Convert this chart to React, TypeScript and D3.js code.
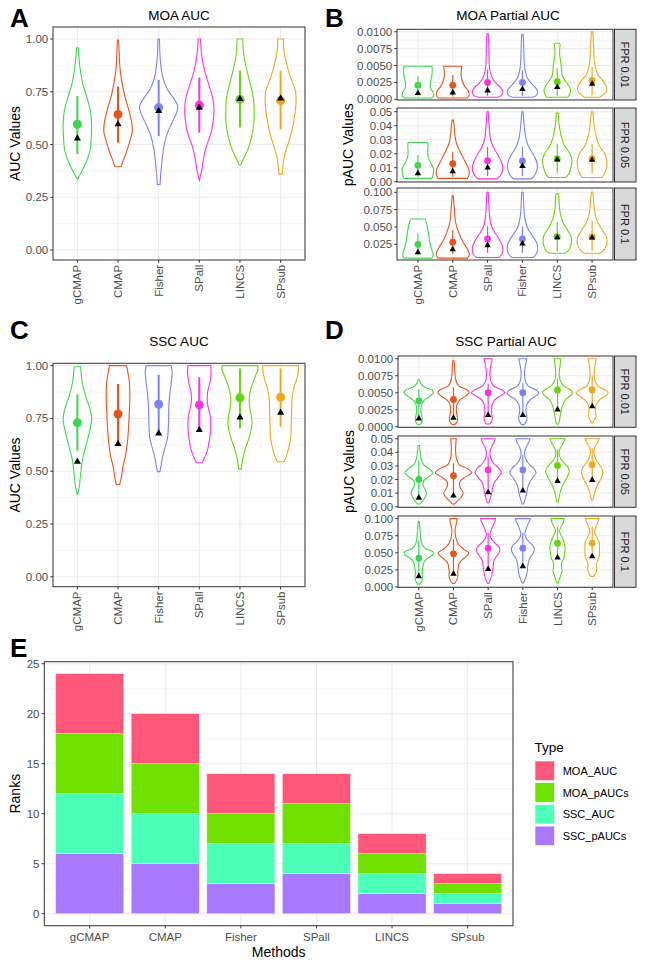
import React from 'react';
import * as d3 from 'd3';

type Prof = [number, number][];

const FONT = "'Liberation Sans', Arial, Helvetica, sans-serif";

const METHODS_AC = ['gCMAP', 'CMAP', 'Fisher', 'SPall', 'LINCS', 'SPsub'];
const METHODS_BD = ['gCMAP', 'CMAP', 'SPall', 'Fisher', 'LINCS', 'SPsub'];
const METHOD_COLORS: Record<string, string> = {
  gCMAP: '#3ED552', CMAP: '#E6531C', Fisher: '#7F80F5', SPall: '#FB33E2', LINCS: '#68D40F', SPsub: '#EFA71E',
};

// ---------- Panel A: MOA AUC (order METHODS_AC) ----------
const A_PROFILES: Prof[] = [
  [[0.335, 0.0], [0.37, 0.10], [0.42, 0.22], [0.47, 0.31], [0.53, 0.34], [0.60, 0.35], [0.66, 0.32], [0.72, 0.24], [0.79, 0.13], [0.87, 0.06], [0.93, 0.03], [0.959, 0.02]],
  [[0.395, 0.08], [0.42, 0.12], [0.46, 0.20], [0.51, 0.28], [0.56, 0.35], [0.60, 0.34], [0.66, 0.27], [0.72, 0.18], [0.79, 0.10], [0.86, 0.05], [0.95, 0.025], [0.995, 0.015]],
  [[0.311, 0.035], [0.36, 0.05], [0.42, 0.08], [0.48, 0.12], [0.54, 0.19], [0.60, 0.32], [0.65, 0.44], [0.68, 0.47], [0.71, 0.40], [0.76, 0.22], [0.82, 0.10], [0.90, 0.04], [1.0, 0.02]],
  [[0.332, 0.0], [0.38, 0.06], [0.43, 0.10], [0.49, 0.17], [0.55, 0.28], [0.61, 0.34], [0.67, 0.36], [0.72, 0.33], [0.78, 0.24], [0.85, 0.13], [0.92, 0.06], [1.0, 0.03]],
  [[0.403, 0.02], [0.43, 0.08], [0.47, 0.18], [0.53, 0.28], [0.60, 0.34], [0.66, 0.35], [0.72, 0.33], [0.79, 0.25], [0.86, 0.16], [0.93, 0.09], [1.0, 0.07]],
  [[0.36, 0.04], [0.40, 0.06], [0.45, 0.10], [0.50, 0.18], [0.56, 0.27], [0.63, 0.34], [0.70, 0.38], [0.75, 0.37], [0.81, 0.26], [0.88, 0.15], [0.95, 0.08], [1.0, 0.07]],
];
const A_MEAN = [0.596, 0.643, 0.675, 0.687, 0.714, 0.708];
const A_MEDIAN = [0.529, 0.596, 0.659, 0.675, 0.716, 0.719];
const A_LO = [0.455, 0.509, 0.54, 0.556, 0.581, 0.572];
const A_HI = [0.73, 0.774, 0.806, 0.818, 0.85, 0.85];

// ---------- Panel C: SSC AUC (order METHODS_AC) ----------
const C_PROFILES: Prof[] = [
  [[0.387, 0], [0.43, 0.05], [0.47, 0.07], [0.52, 0.10], [0.56, 0.13], [0.62, 0.21], [0.68, 0.29], [0.75, 0.35], [0.80, 0.30], [0.85, 0.21], [0.92, 0.12], [0.97, 0.09], [0.995, 0.08]],
  [[0.437, 0.04], [0.47, 0.08], [0.52, 0.12], [0.57, 0.18], [0.62, 0.22], [0.68, 0.25], [0.75, 0.27], [0.84, 0.29], [0.92, 0.28], [0.97, 0.24], [1.0, 0.21]],
  [[0.498, 0.03], [0.53, 0.06], [0.57, 0.10], [0.62, 0.17], [0.66, 0.22], [0.72, 0.24], [0.80, 0.25], [0.86, 0.27], [0.92, 0.31], [0.97, 0.33], [1.0, 0.31]],
  [[0.54, 0.07], [0.56, 0.12], [0.60, 0.20], [0.65, 0.25], [0.70, 0.28], [0.76, 0.27], [0.82, 0.20], [0.87, 0.20], [0.92, 0.26], [0.97, 0.29], [1.0, 0.28]],
  [[0.51, 0.03], [0.55, 0.06], [0.60, 0.12], [0.65, 0.21], [0.70, 0.28], [0.75, 0.29], [0.80, 0.24], [0.85, 0.23], [0.90, 0.28], [0.95, 0.38], [0.98, 0.44], [1.0, 0.44]],
  [[0.545, 0.08], [0.57, 0.14], [0.61, 0.20], [0.66, 0.25], [0.72, 0.26], [0.78, 0.27], [0.84, 0.28], [0.89, 0.32], [0.94, 0.40], [0.98, 0.44], [1.0, 0.44]],
];
const C_MEAN = [0.73, 0.771, 0.817, 0.814, 0.848, 0.85];
const C_MEDIAN = [0.545, 0.629, 0.679, 0.695, 0.755, 0.777];
const C_LO = [0.597, 0.632, 0.68, 0.692, 0.703, 0.711];
const C_HI = [0.864, 0.913, 0.956, 0.945, 0.987, 0.987];

// ---------- Panel B: MOA Partial AUC (order METHODS_BD) ----------
const B1_PROFILES: Prof[] = [
  [[0.0002, 0.38], [0.0005, 0.45], [0.001, 0.44], [0.0017, 0.36], [0.0025, 0.36], [0.0035, 0.40], [0.0045, 0.41], [0.0049, 0.40]],
  [[0.0002, 0.42], [0.0006, 0.47], [0.0012, 0.45], [0.0018, 0.36], [0.0026, 0.28], [0.0036, 0.24], [0.0045, 0.25], [0.0049, 0.26]],
  [[0.0003, 0.28], [0.0006, 0.40], [0.0011, 0.44], [0.0017, 0.38], [0.0023, 0.26], [0.003, 0.15], [0.004, 0.08], [0.005, 0.05], [0.0065, 0.04], [0.008, 0.035], [0.0097, 0.02]],
  [[0.0003, 0.28], [0.0006, 0.40], [0.0011, 0.44], [0.0017, 0.38], [0.0024, 0.25], [0.0032, 0.14], [0.0042, 0.08], [0.0055, 0.05], [0.007, 0.04], [0.0085, 0.03], [0.0096, 0.02]],
  [[0.0003, 0.30], [0.0008, 0.36], [0.0014, 0.38], [0.002, 0.33], [0.0028, 0.22], [0.0036, 0.14], [0.0046, 0.12], [0.0055, 0.10], [0.0065, 0.07], [0.0075, 0.07], [0.0081, 0.08], [0.0083, 0.06]],
  [[0.0003, 0.22], [0.0008, 0.34], [0.0014, 0.42], [0.002, 0.40], [0.0028, 0.30], [0.0036, 0.17], [0.0046, 0.10], [0.006, 0.06], [0.008, 0.04], [0.01, 0.02]],
];
const B1_MEAN = [0.0021, 0.0021, 0.0025, 0.0025, 0.0026, 0.0028];
const B1_MEDIAN = [0.0009, 0.0010, 0.0013, 0.0015, 0.0018, 0.0023];
const B1_LO = [0.0004, 0.0004, 0.0005, 0.0005, 0.0005, 0.0006];
const B1_HI = [0.0035, 0.0036, 0.0044, 0.0043, 0.0046, 0.0048];

const B2_PROFILES: Prof[] = [
  [[0.0024, 0.40], [0.005, 0.44], [0.009, 0.45], [0.013, 0.38], [0.017, 0.30], [0.021, 0.28], [0.025, 0.29], [0.028, 0.28]],
  [[0.0024, 0.42], [0.005, 0.47], [0.009, 0.46], [0.013, 0.38], [0.018, 0.28], [0.023, 0.18], [0.028, 0.10], [0.034, 0.06], [0.040, 0.04], [0.044, 0.02]],
  [[0.002, 0.28], [0.005, 0.38], [0.009, 0.44], [0.014, 0.40], [0.019, 0.30], [0.025, 0.16], [0.031, 0.08], [0.038, 0.05], [0.045, 0.03], [0.05, 0.02]],
  [[0.002, 0.26], [0.005, 0.36], [0.01, 0.43], [0.015, 0.40], [0.02, 0.30], [0.026, 0.16], [0.032, 0.09], [0.04, 0.05], [0.046, 0.03], [0.05, 0.02]],
  [[0.003, 0.25], [0.006, 0.34], [0.011, 0.40], [0.016, 0.42], [0.021, 0.34], [0.026, 0.20], [0.032, 0.12], [0.038, 0.07], [0.044, 0.04], [0.049, 0.03]],
  [[0.003, 0.28], [0.006, 0.36], [0.011, 0.42], [0.016, 0.42], [0.021, 0.34], [0.026, 0.20], [0.032, 0.12], [0.038, 0.07], [0.045, 0.04], [0.05, 0.02]],
];
const B2_MEAN = [0.0117, 0.0129, 0.015, 0.0148, 0.0164, 0.0165];
const B2_MEDIAN = [0.006, 0.0074, 0.010, 0.0112, 0.0157, 0.0155];
const B2_LO = [0.0035, 0.0035, 0.004, 0.004, 0.006, 0.006];
const B2_HI = [0.019, 0.021, 0.025, 0.025, 0.027, 0.027];

const B3_PROFILES: Prof[] = [
  [[0.005, 0.40], [0.009, 0.44], [0.014, 0.42], [0.02, 0.38], [0.028, 0.34], [0.036, 0.32], [0.045, 0.29], [0.053, 0.26], [0.06, 0.22], [0.0615, 0.20]],
  [[0.005, 0.42], [0.009, 0.47], [0.014, 0.46], [0.02, 0.40], [0.028, 0.30], [0.036, 0.22], [0.045, 0.15], [0.055, 0.09], [0.065, 0.06], [0.075, 0.05], [0.085, 0.03], [0.095, 0.02]],
  [[0.006, 0.32], [0.01, 0.40], [0.016, 0.44], [0.023, 0.42], [0.03, 0.36], [0.038, 0.26], [0.046, 0.16], [0.055, 0.09], [0.07, 0.05], [0.085, 0.035], [0.1, 0.02]],
  [[0.006, 0.30], [0.01, 0.38], [0.016, 0.43], [0.023, 0.43], [0.03, 0.38], [0.038, 0.28], [0.046, 0.17], [0.055, 0.10], [0.07, 0.05], [0.085, 0.035], [0.1, 0.02]],
  [[0.012, 0.22], [0.016, 0.32], [0.022, 0.38], [0.03, 0.41], [0.037, 0.39], [0.045, 0.30], [0.055, 0.18], [0.065, 0.11], [0.075, 0.07], [0.088, 0.05], [0.098, 0.04]],
  [[0.012, 0.22], [0.016, 0.32], [0.022, 0.40], [0.03, 0.43], [0.037, 0.40], [0.045, 0.30], [0.055, 0.18], [0.065, 0.10], [0.078, 0.06], [0.09, 0.04], [0.1, 0.02]],
];
const B3_MEAN = [0.025, 0.028, 0.0327, 0.0327, 0.036, 0.036];
const B3_MEDIAN = [0.0135, 0.0178, 0.0236, 0.026, 0.035, 0.0345];
const B3_LO = [0.009, 0.0105, 0.0125, 0.0125, 0.015, 0.015];
const B3_HI = [0.041, 0.0457, 0.051, 0.051, 0.058, 0.058];

// ---------- Panel D: SSC Partial AUC (order METHODS_BD) ----------
const D1_PROFILES: Prof[] = [
  [[0.0003, 0.03], [0.0006, 0.08], [0.0011, 0.10], [0.0017, 0.08], [0.0024, 0.06], [0.0032, 0.08], [0.0039, 0.16], [0.0045, 0.32], [0.005, 0.42], [0.0054, 0.38], [0.0058, 0.18], [0.0062, 0.08], [0.0066, 0.04], [0.0069, 0.02]],
  [[0.0003, 0.03], [0.0006, 0.09], [0.0011, 0.12], [0.0017, 0.10], [0.0024, 0.08], [0.0032, 0.10], [0.0039, 0.18], [0.0045, 0.35], [0.005, 0.45], [0.0054, 0.40], [0.006, 0.15], [0.0068, 0.07], [0.008, 0.04], [0.009, 0.03], [0.0097, 0.02]],
  [[0.0004, 0.05], [0.0008, 0.10], [0.0013, 0.12], [0.0019, 0.10], [0.0026, 0.10], [0.0033, 0.12], [0.004, 0.20], [0.0046, 0.38], [0.005, 0.48], [0.0054, 0.40], [0.006, 0.16], [0.0068, 0.07], [0.0076, 0.05], [0.0085, 0.06], [0.0093, 0.09], [0.0098, 0.11], [0.01, 0.11]],
  [[0.0003, 0.04], [0.0008, 0.10], [0.0013, 0.12], [0.0019, 0.10], [0.0026, 0.09], [0.0033, 0.12], [0.004, 0.22], [0.0046, 0.40], [0.005, 0.46], [0.0054, 0.38], [0.006, 0.15], [0.0068, 0.07], [0.0076, 0.05], [0.0085, 0.06], [0.0093, 0.09], [0.0098, 0.11], [0.01, 0.11]],
  [[0.0004, 0.03], [0.001, 0.06], [0.0017, 0.08], [0.0024, 0.11], [0.0032, 0.15], [0.004, 0.24], [0.0046, 0.38], [0.005, 0.43], [0.0054, 0.38], [0.006, 0.18], [0.0068, 0.08], [0.0076, 0.05], [0.0085, 0.06], [0.0093, 0.08], [0.0098, 0.09], [0.01, 0.09]],
  [[0.0006, 0.02], [0.001, 0.06], [0.0015, 0.11], [0.002, 0.10], [0.0026, 0.09], [0.0033, 0.12], [0.004, 0.22], [0.0046, 0.40], [0.005, 0.46], [0.0054, 0.38], [0.006, 0.16], [0.0068, 0.08], [0.0076, 0.06], [0.0085, 0.07], [0.0093, 0.09], [0.0098, 0.11], [0.01, 0.11]],
];
const D1_MEAN = [0.0038, 0.004, 0.005, 0.005, 0.0054, 0.0054];
const D1_MEDIAN = [0.0012, 0.0013, 0.0017, 0.0017, 0.0025, 0.003];
const D1_LO = [0.0012, 0.0013, 0.0017, 0.0017, 0.0025, 0.003];
const D1_HI = [0.0056, 0.0058, 0.0063, 0.0064, 0.0071, 0.0076];

const D2_PROFILES: Prof[] = [
  [[0.002, 0.03], [0.004, 0.10], [0.007, 0.18], [0.01, 0.22], [0.013, 0.18], [0.016, 0.12], [0.019, 0.14], [0.022, 0.28], [0.025, 0.40], [0.028, 0.30], [0.031, 0.14], [0.035, 0.07], [0.04, 0.04], [0.045, 0.02]],
  [[0.002, 0.03], [0.004, 0.10], [0.007, 0.22], [0.01, 0.28], [0.013, 0.22], [0.016, 0.17], [0.019, 0.20], [0.022, 0.35], [0.025, 0.52], [0.028, 0.40], [0.031, 0.16], [0.036, 0.08], [0.042, 0.06], [0.047, 0.07], [0.05, 0.08]],
  [[0.003, 0.02], [0.006, 0.06], [0.01, 0.10], [0.014, 0.13], [0.018, 0.18], [0.022, 0.30], [0.025, 0.38], [0.028, 0.32], [0.032, 0.16], [0.036, 0.07], [0.04, 0.05], [0.044, 0.10], [0.048, 0.18], [0.05, 0.20]],
  [[0.002, 0.02], [0.005, 0.06], [0.01, 0.11], [0.014, 0.14], [0.018, 0.20], [0.022, 0.30], [0.025, 0.38], [0.028, 0.32], [0.032, 0.16], [0.036, 0.07], [0.04, 0.05], [0.044, 0.10], [0.048, 0.18], [0.05, 0.20]],
  [[0.0037, 0.02], [0.007, 0.05], [0.011, 0.08], [0.015, 0.14], [0.019, 0.22], [0.023, 0.30], [0.026, 0.34], [0.029, 0.30], [0.033, 0.16], [0.037, 0.06], [0.041, 0.05], [0.045, 0.12], [0.048, 0.19], [0.05, 0.21]],
  [[0.005, 0.02], [0.008, 0.05], [0.012, 0.09], [0.016, 0.15], [0.02, 0.24], [0.024, 0.30], [0.027, 0.30], [0.03, 0.24], [0.034, 0.12], [0.038, 0.06], [0.042, 0.05], [0.045, 0.10], [0.048, 0.17], [0.05, 0.20]],
];
const D2_MEAN = [0.0201, 0.0228, 0.027, 0.027, 0.0304, 0.0309];
const D2_MEDIAN = [0.0066, 0.0081, 0.0105, 0.0118, 0.0189, 0.0196];
const D2_LO = [0.0066, 0.0081, 0.0105, 0.0118, 0.0189, 0.0196];
const D2_HI = [0.034, 0.032, 0.037, 0.038, 0.042, 0.043];

const D3_PROFILES: Prof[] = [
  [[0.004, 0.03], [0.008, 0.08], [0.013, 0.11], [0.018, 0.10], [0.024, 0.10], [0.03, 0.12], [0.036, 0.15], [0.042, 0.25], [0.047, 0.40], [0.051, 0.42], [0.056, 0.20], [0.062, 0.10], [0.07, 0.06], [0.08, 0.04], [0.09, 0.025], [0.0956, 0.015]],
  [[0.005, 0.03], [0.01, 0.09], [0.016, 0.13], [0.022, 0.12], [0.028, 0.14], [0.034, 0.16], [0.04, 0.25], [0.045, 0.38], [0.05, 0.44], [0.055, 0.30], [0.062, 0.15], [0.07, 0.08], [0.078, 0.05], [0.085, 0.05], [0.092, 0.08], [0.097, 0.10], [0.1, 0.10]],
  [[0.005, 0.02], [0.01, 0.06], [0.016, 0.10], [0.022, 0.12], [0.028, 0.14], [0.034, 0.15], [0.04, 0.18], [0.046, 0.26], [0.052, 0.33], [0.058, 0.32], [0.064, 0.20], [0.07, 0.10], [0.076, 0.05], [0.082, 0.08], [0.09, 0.14], [0.096, 0.20], [0.1, 0.21]],
  [[0.006, 0.02], [0.012, 0.07], [0.018, 0.11], [0.024, 0.13], [0.03, 0.14], [0.036, 0.16], [0.042, 0.20], [0.048, 0.28], [0.054, 0.33], [0.06, 0.30], [0.066, 0.18], [0.072, 0.09], [0.078, 0.06], [0.084, 0.09], [0.092, 0.15], [0.097, 0.20], [0.1, 0.21]],
  [[0.006, 0.02], [0.012, 0.06], [0.018, 0.10], [0.024, 0.13], [0.03, 0.11], [0.036, 0.12], [0.042, 0.18], [0.048, 0.20], [0.056, 0.22], [0.064, 0.20], [0.072, 0.14], [0.078, 0.08], [0.082, 0.06], [0.088, 0.10], [0.094, 0.16], [0.1, 0.19]],
  [[0.0155, 0.04], [0.02, 0.10], [0.026, 0.13], [0.032, 0.12], [0.038, 0.15], [0.044, 0.20], [0.05, 0.21], [0.058, 0.21], [0.066, 0.20], [0.074, 0.12], [0.08, 0.07], [0.086, 0.09], [0.092, 0.14], [0.097, 0.18], [0.1, 0.19]],
];
const D3_MEAN = [0.042, 0.0485, 0.0568, 0.0568, 0.064, 0.064];
const D3_MEDIAN = [0.0155, 0.019, 0.026, 0.030, 0.043, 0.0446];
const D3_LO = [0.0155, 0.019, 0.026, 0.030, 0.043, 0.0446];
const D3_HI = [0.068, 0.07, 0.079, 0.079, 0.088, 0.088];

// ---------- Panel E: ranks ----------
const RANK_METHODS = ['gCMAP', 'CMAP', 'Fisher', 'SPall', 'LINCS', 'SPsub'];
const RANK_TYPES = ['MOA_AUC', 'MOA_pAUCs', 'SSC_AUC', 'SSC_pAUCs'];
const RANK_TYPE_COLORS = ['#FF5779', '#70E000', '#4CFFB9', '#A879FF'];
const RANK_MOA_AUC = [6, 5, 4, 3, 2, 1];
const RANK_MOA_PAUCS = [6, 5, 3, 4, 2, 1];
const RANK_SSC_AUC = [6, 5, 4, 3, 2, 1];
const RANK_SSC_PAUCS = [6, 5, 3, 4, 2, 1];
const RANK_TICKS = [0, 5, 10, 15, 20, 25];

const AUC_TICKS = [0, 0.25, 0.5, 0.75, 1];
const P01_TICKS = [0, 0.0025, 0.005, 0.0075, 0.01];
const P05_TICKS = [0, 0.01, 0.02, 0.03, 0.04, 0.05];
const P1_TICKS_B = [0.025, 0.05, 0.075, 0.1];
const P1_TICKS_D = [0, 0.025, 0.05, 0.075, 0.1];

interface Facet {
  y0: number; y1: number; domain: [number, number]; ticks: number[]; digits: number; strip?: string;
  profiles: Prof[]; mean: number[]; median: number[]; lo: number[]; hi: number[];
}

const GRID = '#EBEBEB';
const BORDER = '#333333';
const TICKTXT = '#4D4D4D';

function minorTicks(ticks: number[], domain: [number, number]) {
  const out: number[] = [];
  const dt = ticks[1] - ticks[0];
  if (ticks[0] - dt / 2 > domain[0]) out.push(ticks[0] - dt / 2);
  for (let i = 0; i < ticks.length - 1; i++) out.push((ticks[i] + ticks[i + 1]) / 2);
  const last = ticks[ticks.length - 1];
  if (last + dt / 2 < domain[1]) out.push(last + dt / 2);
  return out;
}

function FacetView({ f, cats, x0, x1, lw, r, triSize, showX }: { f: Facet; cats: string[]; x0: number; x1: number; lw: number; r: number; triSize: number; showX: boolean }) {
  const x = d3.scalePoint<string>().domain(cats).range([x0, x1]).padding(0.6);
  const y = d3.scaleLinear().domain(f.domain).range([f.y1, f.y0]);
  const step = x.step();
  const tri = d3.symbol().type(d3.symbolTriangle).size(triSize)()!;
  const fmt = d3.format(`.${f.digits}f`);
  return (
    <g>
      <rect x={x0} y={f.y0} width={x1 - x0} height={f.y1 - f.y0} fill="white" />
      {minorTicks(f.ticks, f.domain).map((t, i) => (
        <line key={'mn' + i} x1={x0} x2={x1} y1={y(t)} y2={y(t)} stroke={GRID} strokeWidth={0.55} />
      ))}
      {f.ticks.map((t, i) => (
        <line key={'mj' + i} x1={x0} x2={x1} y1={y(t)} y2={y(t)} stroke={GRID} strokeWidth={1.07} />
      ))}
      {cats.map((c) => (
        <line key={'v' + c} x1={x(c)} x2={x(c)} y1={f.y0} y2={f.y1} stroke={GRID} strokeWidth={1.07} />
      ))}
      {cats.map((c, i) => {
        const cx = x(c)!;
        const area = d3.area<[number, number]>()
          .y((d) => y(d[0]))
          .x0((d) => cx - d[1] * step)
          .x1((d) => cx + d[1] * step)
          .curve(d3.curveCatmullRom.alpha(0.5));
        return <path key={'vl' + c} d={area(f.profiles[i]) || ''} fill="white" stroke={METHOD_COLORS[c]} strokeWidth={1.1} />;
      })}
      {cats.map((c, i) => (
        <line key={'lr' + c} x1={x(c)} x2={x(c)} y1={y(f.lo[i])} y2={y(f.hi[i])} stroke={METHOD_COLORS[c]} strokeWidth={lw} />
      ))}
      {cats.map((c, i) => (
        <circle key={'m' + c} cx={x(c)} cy={y(f.mean[i])} r={r} fill={METHOD_COLORS[c]} />
      ))}
      {cats.map((c, i) => (
        <path key={'t' + c} d={tri} transform={`translate(${x(c)},${y(f.median[i])})`} fill="black" />
      ))}
      <rect x={x0} y={f.y0} width={x1 - x0} height={f.y1 - f.y0} fill="none" stroke={BORDER} strokeWidth={1} />
      {f.ticks.map((t, i) => (
        <g key={'yt' + i}>
          <line x1={x0 - 2.75} x2={x0} y1={y(t)} y2={y(t)} stroke={BORDER} strokeWidth={1} />
          <text x={x0 - 4.8} y={y(t)} textAnchor="end" dominantBaseline="central" fontSize={11.5} fill={TICKTXT}>{fmt(t)}</text>
        </g>
      ))}
      {showX && cats.map((c) => (
        <g key={'xt' + c}>
          <line x1={x(c)} x2={x(c)} y1={f.y1} y2={f.y1 + 2.75} stroke={BORDER} strokeWidth={1} />
          <text transform={`translate(${x(c)},${f.y1 + 4.8}) rotate(-90)`} textAnchor="end" dominantBaseline="central" fontSize={11.5} fill={TICKTXT}>{c}</text>
        </g>
      ))}
      {f.strip && (
        <g>
          <rect x={x1 + 1.5} y={f.y0} width={21.5} height={f.y1 - f.y0} fill="#D9D9D9" stroke={BORDER} strokeWidth={1} />
          <text transform={`translate(${x1 + 12.25},${(f.y0 + f.y1) / 2}) rotate(90)`} textAnchor="middle" dominantBaseline="central" fontSize={11} fill="#1A1A1A">{f.strip}</text>
        </g>
      )}
    </g>
  );
}

function RankPanel() {
  const x0 = 44.3, x1 = 513, y0 = 661.7, y1 = 925.7;
  const x = d3.scaleBand<string>().domain(RANK_METHODS).range([x0, x1]).paddingInner(0.1).paddingOuter(0.15);
  const y = d3.scaleLinear().domain([-1.2, 25.2]).range([y1, y0]);
  const rows = RANK_METHODS.map((m, i) => ({
    method: m, MOA_AUC: RANK_MOA_AUC[i], MOA_pAUCs: RANK_MOA_PAUCS[i], SSC_AUC: RANK_SSC_AUC[i], SSC_pAUCs: RANK_SSC_PAUCS[i],
  }));
  const stackKeys = ['SSC_pAUCs', 'SSC_AUC', 'MOA_pAUCs', 'MOA_AUC'];
  const series = d3.stack<any>().keys(stackKeys)(rows);
  const color = d3.scaleOrdinal<string, string>().domain(RANK_TYPES).range(RANK_TYPE_COLORS);
  const minor = minorTicks(RANK_TICKS, [-1.2, 25.2]);
  return (
    <g>
      <rect x={x0} y={y0} width={x1 - x0} height={y1 - y0} fill="white" />
      {minor.map((t, i) => <line key={'mn' + i} x1={x0} x2={x1} y1={y(t)} y2={y(t)} stroke={GRID} strokeWidth={0.55} />)}
      {RANK_TICKS.map((t, i) => <line key={'mj' + i} x1={x0} x2={x1} y1={y(t)} y2={y(t)} stroke={GRID} strokeWidth={1.07} />)}
      {RANK_METHODS.map((m) => {
        const cx = x(m)! + x.bandwidth() / 2;
        return <line key={'v' + m} x1={cx} x2={cx} y1={y0} y2={y1} stroke={GRID} strokeWidth={1.07} />;
      })}
      {series.map((s) => (
        <g key={s.key}>
          {s.map((d: any, i: number) => (
            <rect key={i} x={x(d.data.method)} y={y(d[1])} width={x.bandwidth()} height={y(d[0]) - y(d[1])}
              fill={color(s.key)} stroke="#ffffff" strokeOpacity={0.55} strokeWidth={0.6} />
          ))}
        </g>
      ))}
      <rect x={x0} y={y0} width={x1 - x0} height={y1 - y0} fill="none" stroke={BORDER} strokeWidth={1} />
      {RANK_TICKS.map((t) => (
        <g key={'yt' + t}>
          <line x1={x0 - 2.75} x2={x0} y1={y(t)} y2={y(t)} stroke={BORDER} />
          <text x={x0 - 4.8} y={y(t)} textAnchor="end" dominantBaseline="central" fontSize={11.5} fill={TICKTXT}>{t}</text>
        </g>
      ))}
      {RANK_METHODS.map((m) => {
        const cx = x(m)! + x.bandwidth() / 2;
        return (
          <g key={'xt' + m}>
            <line x1={cx} x2={cx} y1={y1} y2={y1 + 2.75} stroke={BORDER} />
            <text x={cx} y={y1 + 15.5} textAnchor="middle" fontSize={11.5} fill={TICKTXT}>{m}</text>
          </g>
        );
      })}
      <text x={(x0 + x1) / 2} y={956.5} textAnchor="middle" fontSize={14} fill="black">Methods</text>
      <text transform={`translate(15,${(y0 + y1) / 2}) rotate(-90)`} textAnchor="middle" dominantBaseline="central" fontSize={14} fill="black">Ranks</text>
      <text x={10} y={657} fontSize={26} fontWeight="bold" fill="black">E</text>
      {/* legend */}
      <text x={534.5} y={751.5} fontSize={13.5} fill="black">Type</text>
      {RANK_TYPES.map((t, i) => (
        <g key={'lg' + t}>
          <rect x={535} y={761 + i * 21.7} width={19.5} height={19.5} fill={color(t)} stroke="#ffffff" strokeWidth={0.6} />
          <text x={562.7} y={761 + i * 21.7 + 9.9} dominantBaseline="central" fontSize={11} fill="black">{t}</text>
        </g>
      ))}
    </g>
  );
}

function PanelTitle({ x, y, text }: { x: number; y: number; text: string }) {
  return <text x={x} y={y} textAnchor="middle" fontSize={13.5} fill="black">{text}</text>;
}

export default function App() {
  const facetA: Facet = { y0: 27, y1: 260, domain: [-0.047, 1.057], ticks: AUC_TICKS, digits: 2, profiles: A_PROFILES, mean: A_MEAN, median: A_MEDIAN, lo: A_LO, hi: A_HI };
  const facetC: Facet = { y0: 363.3, y1: 586.7, domain: [-0.047, 1.011], ticks: AUC_TICKS, digits: 2, profiles: C_PROFILES, mean: C_MEAN, median: C_MEDIAN, lo: C_LO, hi: C_HI };
  const facetsB: Facet[] = [
    { y0: 29.3, y1: 100, domain: [-0.0001, 0.01036], ticks: P01_TICKS, digits: 4, strip: 'FPR 0.01', profiles: B1_PROFILES, mean: B1_MEAN, median: B1_MEDIAN, lo: B1_LO, hi: B1_HI },
    { y0: 108, y1: 182, domain: [-0.0002, 0.05264], ticks: P05_TICKS, digits: 2, strip: 'FPR 0.05', profiles: B2_PROFILES, mean: B2_MEAN, median: B2_MEDIAN, lo: B2_LO, hi: B2_HI },
    { y0: 188, y1: 260, domain: [0.00236, 0.1062], ticks: P1_TICKS_B, digits: 3, strip: 'FPR 0.1', profiles: B3_PROFILES, mean: B3_MEAN, median: B3_MEDIAN, lo: B3_LO, hi: B3_HI },
  ];
  const facetsD: Facet[] = [
    { y0: 356, y1: 427.3, domain: [-0.00009, 0.0104], ticks: P01_TICKS, digits: 4, strip: 'FPR 0.01', profiles: D1_PROFILES, mean: D1_MEAN, median: D1_MEDIAN, lo: D1_LO, hi: D1_HI },
    { y0: 436, y1: 507.3, domain: [-0.0004, 0.052], ticks: P05_TICKS, digits: 2, strip: 'FPR 0.05', profiles: D2_PROFILES, mean: D2_MEAN, median: D2_MEDIAN, lo: D2_LO, hi: D2_HI },
    { y0: 516, y1: 587.3, domain: [-0.0005, 0.1039], ticks: P1_TICKS_D, digits: 3, strip: 'FPR 0.1', profiles: D3_PROFILES, mean: D3_MEAN, median: D3_MEDIAN, lo: D3_LO, hi: D3_HI },
  ];
  return (
    <svg width={661} height={962} style={{ position: 'absolute', left: 0, top: 0, background: 'white' }} fontFamily={FONT}>
      <rect width={661} height={962} fill="white" />
      {/* Panel A */}
      <text x={10} y={27} fontSize={26} fontWeight="bold">A</text>
      <PanelTitle x={179} y={19.5} text="MOA AUC" />
      <text transform="translate(15,143.5) rotate(-90)" textAnchor="middle" dominantBaseline="central" fontSize={14}>AUC Values</text>
      <FacetView f={facetA} cats={METHODS_AC} x0={53} x1={305} lw={2} r={4.5} triSize={22} showX={true} />
      {/* Panel B */}
      <text x={325} y={27} fontSize={26} fontWeight="bold">B</text>
      <PanelTitle x={508} y={19.5} text="MOA Partial AUC" />
      <text transform="translate(348,144.7) rotate(-90)" textAnchor="middle" dominantBaseline="central" fontSize={14}>pAUC Values</text>
      {facetsB.map((f, i) => (
        <FacetView key={'b' + i} f={f} cats={METHODS_BD} x0={397} x1={613} lw={1.2} r={3.4} triSize={18} showX={i === 2} />
      ))}
      {/* Panel C */}
      <text x={10} y={339} fontSize={26} fontWeight="bold">C</text>
      <PanelTitle x={179} y={346} text="SSC AUC" />
      <text transform="translate(15,475) rotate(-90)" textAnchor="middle" dominantBaseline="central" fontSize={14}>AUC Values</text>
      <FacetView f={facetC} cats={METHODS_AC} x0={53} x1={305} lw={2} r={4.5} triSize={22} showX={true} />
      {/* Panel D */}
      <text x={325} y={339} fontSize={26} fontWeight="bold">D</text>
      <PanelTitle x={506} y={346} text="SSC Partial AUC" />
      <text transform="translate(349,471.5) rotate(-90)" textAnchor="middle" dominantBaseline="central" fontSize={14}>pAUC Values</text>
      {facetsD.map((f, i) => (
        <FacetView key={'d' + i} f={f} cats={METHODS_BD} x0={398} x1={613} lw={1.2} r={3.4} triSize={18} showX={i === 2} />
      ))}
      {/* Panel E */}
      <RankPanel />
    </svg>
  );
}
